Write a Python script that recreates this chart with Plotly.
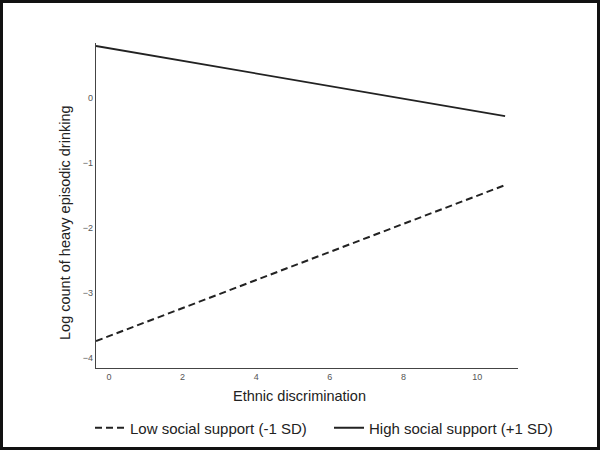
import plotly.graph_objects as go

# Data
x_vals = [-0.35, 10.76]
low_support = [-3.74, -1.34]
high_support = [0.80, -0.28]
series_names = ["Low social support (-1 SD)", "High social support (+1 SD)"]
x_ticks = [0, 2, 4, 6, 8, 10]
y_ticks = [0, -1, -2, -3, -4]

FONT = "Liberation Sans, Arial, sans-serif"

fig = go.Figure()
fig.add_trace(go.Scatter(x=x_vals, y=low_support, mode="lines", name=series_names[0],
                         line=dict(color="#222222", width=2, dash="7px,4px")))
fig.add_trace(go.Scatter(x=x_vals, y=high_support, mode="lines", name=series_names[1],
                         line=dict(color="#222222", width=1.8)))

L, R, T, B = 96, 82, 43, 82
W, H = 600, 450
pw, ph = W - L - R, H - T - B

def px_x(p):
    return (p - L) / pw

def px_y(p):
    return (H - B - p) / ph

fig.update_layout(
    width=W, height=H,
    margin=dict(l=L, r=R, t=T, b=B, autoexpand=False),
    paper_bgcolor="white", plot_bgcolor="white",
    font=dict(family=FONT, color="#222222"),
    showlegend=True,
    legend=dict(orientation="h", x=px_x(90), y=px_y(428), xanchor="left", yanchor="middle",
                font=dict(size=15, family=FONT, color="#222222"),
                itemwidth=30, tracegroupgap=0, entrywidth=194, entrywidthmode="pixels"),
    xaxis=dict(range=[-0.35, 11.11], tickvals=x_ticks, ticks="", showgrid=False, zeroline=False,
               showline=True, linecolor="#444444", linewidth=1.2,
               tickfont=dict(size=9, color="#555555", family=FONT)),
    yaxis=dict(range=[-4.154, 0.846], tickvals=y_ticks, ticks="", showgrid=False, zeroline=False,
               showline=True, linecolor="#444444", linewidth=1.2,
               tickfont=dict(size=9, color="#555555", family=FONT)),
    annotations=[
        dict(text="Ethnic discrimination", xref="paper", yref="paper", x=px_x(299), y=px_y(396),
             showarrow=False, font=dict(size=14.5, family=FONT, color="#222222"),
             xanchor="center", yanchor="middle"),
        dict(text="Log count of heavy episodic drinking", xref="paper", yref="paper",
             x=px_x(65), y=px_y(223), textangle=-90, showarrow=False,
             font=dict(size=14.5, family=FONT, color="#222222"),
             xanchor="center", yanchor="middle"),
    ],
    shapes=[
        dict(type="rect", xref="paper", yref="paper",
             x0=px_x(1.5), x1=px_x(598.5), y0=px_y(448.5), y1=px_y(1.5),
             line=dict(color="#111111", width=3), fillcolor="rgba(0,0,0,0)", layer="above"),
    ],
)

fig.write_html("out.html", config={"displayModeBar": False},
               post_script="document.body.style.margin='0';document.body.style.overflow='hidden';")
